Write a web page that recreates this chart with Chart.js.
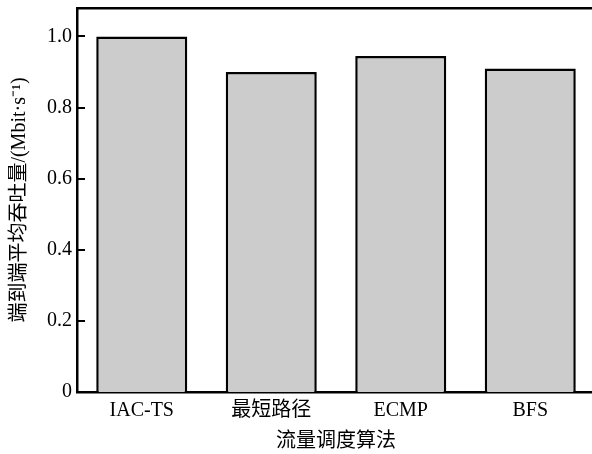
<!DOCTYPE html>
<html>
<head>
<meta charset="utf-8">
<script src="https://cdn.jsdelivr.net/npm/chart.js@4"></script>
<style>
  html, body { margin: 0; padding: 0; background: #fff; overflow: hidden; }
  #wrap { width: 595px; height: 454px; }
</style>
</head>
<body>
<div id="wrap"><canvas id="myChart"></canvas></div>
<script>
var algorithms = ['IAC-TS', '最短路径', 'ECMP', 'BFS'];
var throughput = [1.0, 0.90, 0.945, 0.91];
var yTicks = [0, 0.2, 0.4, 0.6, 0.8, 1.0];

var FONT = "'Liberation Serif', 'Noto Sans CJK SC', serif";

// short tick marks pointing into the plot on the y axis
var innerTicks = {
  id: 'innerTicks',
  afterDraw: function (chart) {
    var ctx = chart.ctx;
    var y = chart.scales.y;
    var left = chart.chartArea.left;
    ctx.save();
    ctx.strokeStyle = '#000';
    ctx.lineWidth = 2;
    y.ticks.forEach(function (t) {
      var py = Math.round(y.getPixelForValue(t.value));
      ctx.beginPath();
      ctx.moveTo(left, py);
      ctx.lineTo(left + 8, py);
      ctx.stroke();
    });
    ctx.restore();
  }
};

renderChart();
function renderChart() {
  var existingChart = Chart.getChart("myChart");
  if (existingChart) {
    existingChart.destroy();
  }
  new Chart("myChart", {
    type: "bar",
    data: {
      labels: algorithms,
      datasets: [{
        data: throughput,
        backgroundColor: "#cccccc",
        borderColor: "#000",
        borderWidth: 2.5,
        categoryPercentage: 1,
        barPercentage: 0.703
      }]
    },
    options: {
      responsive: true,
      maintainAspectRatio: false,
      animation: false,
      devicePixelRatio: 1,
      layout: { padding: { top: 8, left: 0, right: 0, bottom: 0 } },
      plugins: {
        legend: { display: false },
        tooltip: { enabled: false }
      },
      scales: {
        x: {
          position: 'bottom',
          grid: { display: false, drawTicks: false },
          border: { display: true, color: '#000', width: 2.5 },
          ticks: { color: '#000', padding: 7, maxRotation: 0, font: { family: FONT, size: 20 } },
          title: {
            display: true,
            text: '流量调度算法',
            color: '#000',
            padding: { top: 0, bottom: 0 },
            font: { family: FONT, size: 20 }
          },
          afterFit: function (scale) {
            scale.height = 62;
            scale.paddingLeft = 0;
            scale.paddingRight = 0;
          }
        },
        xTop: {
          position: 'top',
          type: 'category',
          grid: { display: false, drawTicks: false },
          border: { display: true, color: '#000', width: 2.5 },
          ticks: { display: false },
          afterFit: function (scale) {
            scale.height = 0;
            scale.paddingLeft = 0;
            scale.paddingRight = 0;
          }
        },
        y: {
          min: 0,
          max: 1.08,
          grid: { display: false, drawTicks: false },
          border: { display: true, color: '#000', width: 2.5 },
          afterBuildTicks: function (scale) {
            scale.ticks = yTicks.map(function (v) { return { value: v }; });
          },
          ticks: {
            color: '#000',
            padding: 5,
            font: { family: FONT, size: 20 },
            callback: function (v) { return v === 0 ? '0' : v.toFixed(1); }
          },
          title: {
            display: true,
            text: '端到端平均吞吐量/(Mbit·s⁻¹)',
            color: '#000',
            padding: { top: 8, bottom: 0 },
            font: { family: FONT, size: 20 }
          },
          afterFit: function (scale) {
            scale.width = 77;
            scale.paddingTop = 0;
            scale.paddingBottom = 0;
          }
        }
      }
    },
    plugins: [innerTicks]
  });
}
</script>
</body>
</html>
